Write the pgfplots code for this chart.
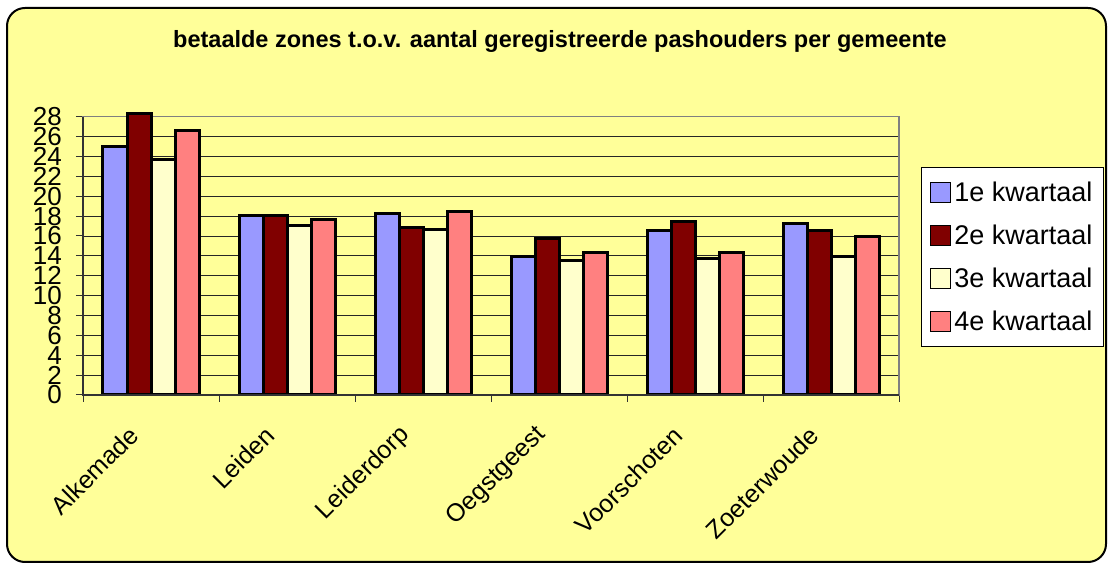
\documentclass[border=0pt]{standalone}
\usepackage{fontspec}
\setmainfont{Liberation Sans}
\usepackage{pgfplots}
\pgfplotsset{compat=1.18}
\definecolor{bgy}{HTML}{FFFF99}
\definecolor{qone}{HTML}{9999FF}
\definecolor{qtwo}{HTML}{800000}
\definecolor{qthree}{HTML}{FFFFCC}
\definecolor{qfour}{HTML}{FF8080}
\pgfplotsset{sqleg/.style={legend image code/.code={\draw[##1, line width=1.8pt] (0pt,-10pt) rectangle (20pt,10pt);}}}
\begin{document}
\begin{tikzpicture}[x=1pt,y=1pt]
\useasboundingbox (0,0) rectangle (1110,567);
\fill[white] (0,0) rectangle (1110,567);
\draw[fill=bgy, line width=2pt, rounded corners=18pt] (7,5) rectangle (1106,559);
\node[font=\fontsize{23.5}{27}\selectfont\bfseries, anchor=base] at (560,519) {betaalde zones t.o.v. aantal geregistreerde pashouders per gemeente};
\begin{axis}[
  at={(83pt,172pt)}, anchor=south west,
  scale only axis, width=816pt, height=278.3pt,
  ybar=0pt, bar width=24pt,
  xmin=-0.5, xmax=5.5, ymin=0, ymax=28,
  clip=false,
  ytick={0,2,...,28},
  xtick={0,...,5},
  xticklabels={Alkemade,Leiden,Leiderdorp,Oegstgeest,Voorschoten,Zoeterwoude},
  minor xtick={-0.5,0.5,...,5.5},
  major x tick style={draw=none},
  xtick pos=lower, ytick pos=left,
  tick align=outside,
  major tick length=7pt, minor tick length=7pt,
  tick style={black!80, line width=1pt},
  ymajorgrids, grid style={black!85, line width=0.9pt},
  axis line style={draw=gray, line width=1.5pt},
  /pgf/number format/assume math mode=true,
  yticklabel style={font=\fontsize{26}{26}\selectfont, anchor=east, inner sep=0pt, xshift=-14pt},
  xticklabel style={font=\fontsize{25}{25}\selectfont, xshift=-17pt, yshift=-29pt, rotate=45, anchor=east, inner sep=0pt},
  legend style={at={(1.02696,0.8193)}, anchor=north west, draw=black, fill=white, line width=1pt,
    font=\fontsize{27}{30}\selectfont, row sep=17pt, inner xsep=8pt, inner ysep=12pt,
    nodes={inner sep=3pt, text height=19pt, text depth=1pt}},
  legend cell align=left,
]
\addplot[fill=qone, draw=black, line width=3pt, sqleg]
  coordinates {(0,25) (1,18.1) (2,18.3) (3,13.9) (4,16.5) (5,17.3)};
\addplot[fill=qtwo, draw=black, line width=3pt, sqleg]
  coordinates {(0,28.35) (1,18.1) (2,16.9) (3,15.7) (4,17.5) (5,16.5)};
\addplot[fill=qthree, draw=black, line width=3pt, sqleg]
  coordinates {(0,23.7) (1,17.1) (2,16.7) (3,13.5) (4,13.7) (5,13.9)};
\addplot[fill=qfour, draw=black, line width=3pt, sqleg]
  coordinates {(0,26.6) (1,17.7) (2,18.5) (3,14.3) (4,14.3) (5,15.9)};
\legend{1e kwartaal,2e kwartaal,3e kwartaal,4e kwartaal}
\draw[black!80, line width=1.5pt] (rel axis cs:0,1) -- (rel axis cs:0,0) -- (rel axis cs:1,0);
\end{axis}
\end{tikzpicture}
\end{document}
